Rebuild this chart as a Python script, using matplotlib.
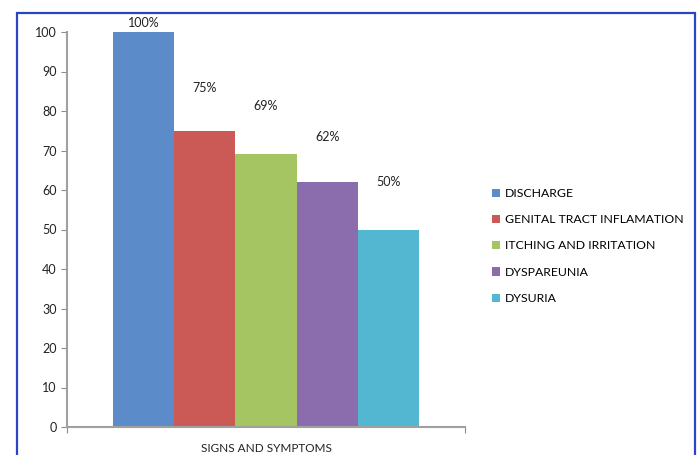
import matplotlib
matplotlib.use("Agg")
from matplotlib import pyplot as plt
from matplotlib.patches import Rectangle, Patch

categories = ["DISCHARGE", "GENITAL TRACT INFLAMATION", "ITCHING AND IRRITATION",
              "DYSPAREUNIA", "DYSURIA"]
values = [100, 75, 69, 62, 50]
labels = ["100%", "75%", "69%", "62%", "50%"]
colors = ["#5B8BC9", "#CB5A56", "#A5C462", "#8B6DAE", "#53B7D2"]
# how far above each bar its label sits (data units)
label_lift = [0.8, 9.2, 10.7, 10.0, 10.5]

plt.rcParams['font.family'] = ['Lato', 'DejaVu Sans']

fig = plt.figure(figsize=(6.99, 4.55), dpi=100)
ax = fig.add_axes([67 / 699, 1 - 427 / 455, (465 - 67) / 699, (427 - 32) / 455])

x = list(range(len(values)))
ax.bar(x, values, width=1.0, color=colors, edgecolor="none")
for xi, v, lab, lift in zip(x, values, labels, label_lift):
    ax.text(xi, v + lift, lab, ha="center", va="bottom", fontsize=9, color="#222222")

ax.set_xlim(-1.25, 5.25)
ax.set_ylim(0, 100)
ax.set_yticks(range(0, 101, 10))
ax.set_xticks([-1.25, 5.25])
ax.set_xticklabels([])
ax.tick_params(axis="y", labelsize=9, length=4, color="#8c8c8c", labelcolor="#222222")
ax.tick_params(axis="x", length=4, color="#8c8c8c")
for side in ["top", "right"]:
    ax.spines[side].set_visible(False)
for side in ["left", "bottom"]:
    ax.spines[side].set_color("#a0a0a0")
    ax.spines[side].set_linewidth(1.5)
ax.set_xlabel("SIGNS AND SYMPTOMS", fontsize=8.5, color="#222222", labelpad=4)

handles = [Patch(facecolor=c, edgecolor="none") for c in colors]
fig.legend(handles, categories, loc="upper left", bbox_to_anchor=(487 / 699, 1 - 183 / 455),
           frameon=False, fontsize=8.8, handlelength=0.65, handleheight=0.65,
           handletextpad=0.4, labelspacing=1.25, borderaxespad=0)

fig.patches.append(Rectangle((17 / 699, -0.05), (695 - 17) / 699, 1 - 13 / 455 + 0.05,
                             transform=fig.transFigure, fill=False,
                             edgecolor="#2A45C0", linewidth=1.6))

fig.savefig("out.png", dpi=100)
